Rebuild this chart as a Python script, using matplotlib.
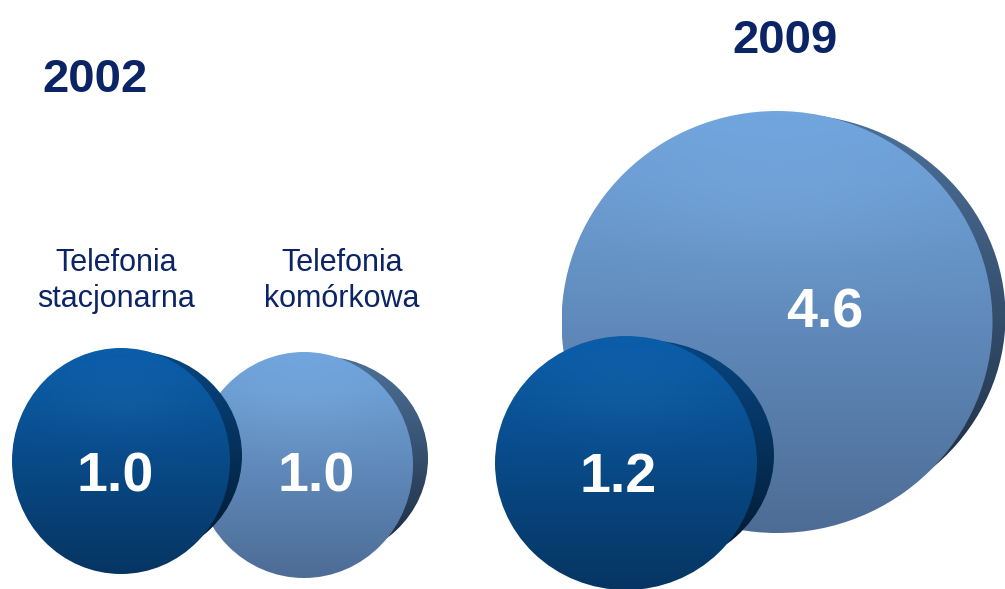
import matplotlib.pyplot as plt
import numpy as np
from matplotlib.patches import Ellipse
from matplotlib.colors import to_rgb

plt.rcParams['font.family'] = ['Liberation Sans', 'DejaVu Sans']

# data
years = ['2002', '2009']
categories = ['Telefonia\nstacjonarna', 'Telefonia\nkomórkowa']
values_2002 = [1.0, 1.0]
values_2009 = [1.2, 4.6]

# layout in pixel coords (x, y, width, height, rim depth), one per bubble
layout_2002 = [(121, 461, 218, 226, 12), (304, 465, 218, 226, 15)]
layout_2009 = [(626, 463, 262, 254, 17), (777, 322, 431, 422, 13)]

navy = '#0B2466'
dark_face = ('#0A5CA8', '#063562')
dark_rim = ('#07457F', '#03162B')
light_face = ('#70A4DC', '#4D6C95')
light_rim = ('#4C7098', '#19273A')


def gradient(ax, clip, x0, x1, y0, y1, top, bottom, highlight=0.0):
    n = 200
    t = np.linspace(0, 1, n)[:, None]
    c0 = np.array(to_rgb(top))
    c1 = np.array(to_rgb(bottom))
    img = c0 + (c1 - c0) * (t ** 1.1)[:, :, None] * np.ones((1, n, 1))
    if highlight:
        xx = np.linspace(-1, 1, n)[None, :]
        yy = np.linspace(-1, 1, n)[:, None]
        h = np.exp(-(xx ** 2 / 0.5 + (yy + 0.55) ** 2 / 0.12)) * highlight
        img = img + h[:, :, None]
    img = np.clip(img, 0, 1)
    im = ax.imshow(img, extent=(x0, x1, y1, y0), origin='upper',
                   aspect='auto', interpolation='bilinear', zorder=ax._z)
    im.set_clip_path(clip)


def disc(ax, cx, cy, w, h, dx, face, rim):
    rx, ry = w / 2, h / 2
    # rim: a slightly squashed copy of the face pushed to the right
    rcy = cy - 0.45 * dx
    rh = h * (1 - 0.7 * dx / rx)
    rim_patch = Ellipse((cx + dx, rcy), w, rh, facecolor='none',
                        edgecolor='none', zorder=ax._z)
    ax.add_patch(rim_patch)
    gradient(ax, rim_patch, cx + dx - rx, cx + dx + rx, rcy - rh / 2, rcy + rh / 2,
             rim[0], rim[1])
    ax._z += 1
    face_patch = Ellipse((cx, cy), w, h, facecolor='none', edgecolor='none', zorder=ax._z)
    ax.add_patch(face_patch)
    gradient(ax, face_patch, cx - rx, cx + rx, cy - ry, cy + ry, face[0], face[1], 0.025)
    ax._z += 1


fig = plt.figure(figsize=(10.05, 5.89), dpi=100)
ax = fig.add_axes([0, 0, 1, 1])
ax._z = 1

# 2002: mobile disc behind, fixed-line disc in front
disc(ax, *layout_2002[1], light_face, light_rim)
disc(ax, *layout_2002[0], dark_face, dark_rim)
# 2009: big mobile disc behind, fixed-line in front
disc(ax, *layout_2009[1], light_face, light_rim)
disc(ax, *layout_2009[0], dark_face, dark_rim)

label_pos_2002 = [(115, 492), (316, 492)]
label_pos_2009 = [(618, 492), (825, 328)]
for v, (x, y) in zip(values_2002, label_pos_2002):
    ax.text(x, y, f'{v:.1f}', color='white', fontsize=40, fontweight='bold',
            ha='center', va='baseline', zorder=50)
for v, (x, y) in zip(values_2009, label_pos_2009):
    ax.text(x, y, f'{v:.1f}', color='white', fontsize=40, fontweight='bold',
            ha='center', va='baseline', zorder=50)

ax.text(95, 92, years[0], color=navy, fontsize=34, fontweight='bold',
        ha='center', va='baseline')
ax.text(785, 53, years[1], color=navy, fontsize=34, fontweight='bold',
        ha='center', va='baseline')

for cat, x in zip(categories, [116, 342]):
    ax.text(x, 307, cat, color=navy, fontsize=22, ha='center', va='baseline',
            linespacing=1.27)

ax.set_xlim(0, 1005)
ax.set_ylim(589, 0)
ax.axis('off')

plt.savefig('out.png', dpi=100)
